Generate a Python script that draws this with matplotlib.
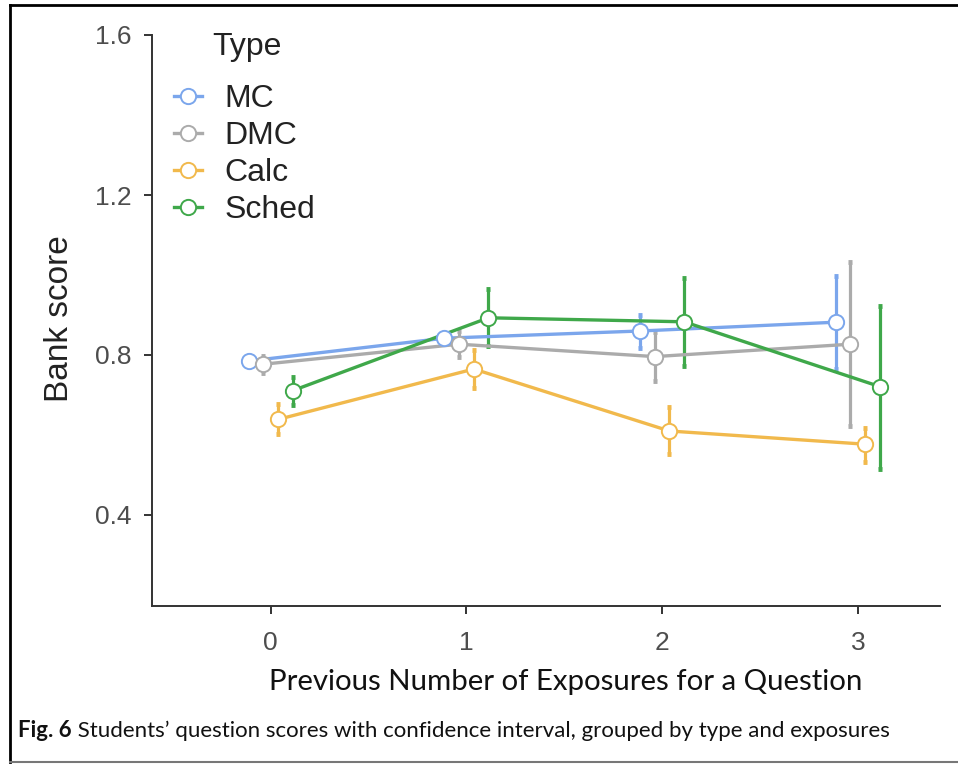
import matplotlib
matplotlib.use("Agg")
import matplotlib.pyplot as plt
from matplotlib.lines import Line2D
import numpy as np

# ---- data ----
exposures = [0, 1, 2, 3]
types = ["MC", "DMC", "Calc", "Sched"]
mc_mean = [0.785, 0.842, 0.860, 0.882]
mc_lo = [0.777, 0.830, 0.817, 0.764]
mc_hi = [0.793, 0.854, 0.900, 0.998]
dmc_mean = [0.777, 0.827, 0.796, 0.827]
dmc_lo = [0.756, 0.796, 0.735, 0.623]
dmc_hi = [0.797, 0.860, 0.858, 1.033]
calc_mean = [0.639, 0.765, 0.610, 0.577]
calc_lo = [0.602, 0.717, 0.552, 0.533]
calc_hi = [0.677, 0.812, 0.671, 0.617]
sched_mean = [0.711, 0.893, 0.883, 0.721]
sched_lo = [0.675, 0.823, 0.773, 0.514]
sched_hi = [0.746, 0.964, 0.992, 0.922]
y_ticks = [0.4, 0.8, 1.2, 1.6]
y_ticklabels = ["0.4", "0.8", "1.2", "1.6"]
x_label = "Previous Number of Exposures for a Question"
y_label = "Bank score"
legend_title = "Type"
caption_bold = "Fig. 6"
caption_text = " Students\u2019 question scores with confidence interval, grouped by type and exposures"

means = [mc_mean, dmc_mean, calc_mean, sched_mean]
los = [mc_lo, dmc_lo, calc_lo, sched_lo]
his = [mc_hi, dmc_hi, calc_hi, sched_hi]
colors = ["#7ba6ec", "#ababab", "#f1b94c", "#3fa84a"]
offsets = [-0.1125, -0.0375, 0.0375, 0.1125]

arial = ["Liberation Sans", "DejaVu Sans"]
cal = ["Lato", "DejaVu Sans"]

W, H = 958, 765
fig = plt.figure(figsize=(W / 100, H / 100), dpi=100)
ax = fig.add_axes([152 / W, 1 - 606 / H, (940 - 152) / W, (606 - 35) / H])

for m, lo, hi, c, off in zip(means, los, his, colors, offsets):
    x = np.array(exposures) + off
    m = np.array(m)
    yerr = [m - np.array(lo), np.array(hi) - m]
    ax.errorbar(x, m, yerr=yerr, fmt="none", ecolor=c, elinewidth=2.3,
                capsize=1.6, capthick=3.5, zorder=2)
    ax.plot(x, m, color=c, lw=2.4, zorder=3)
    ax.plot(x, m, ls="none", marker="o", ms=11, mfc="white", mec=c,
            mew=1.4, zorder=4)

ax.set_xlim(-0.607, 3.42)
ax.set_ylim(0.1725, 1.6)
ax.set_xticks(exposures)
ax.set_xticklabels([str(e) for e in exposures])
ax.set_yticks(y_ticks)
ax.set_yticklabels(y_ticklabels)
for s in ["top", "right"]:
    ax.spines[s].set_visible(False)
for s in ["left", "bottom"]:
    ax.spines[s].set_color("#333333")
    ax.spines[s].set_linewidth(1.4)
ax.tick_params(axis="both", length=5.5, width=1.4, color="#333333",
               labelcolor="#4d4d4d", labelsize=19)
ax.tick_params(axis="y", pad=9)
ax.tick_params(axis="x", pad=12.5)
for lab in ax.get_xticklabels() + ax.get_yticklabels():
    lab.set_family(arial)

fig.text(60 / W, 1 - 319 / H, y_label, rotation=90, ha="center", va="center",
         fontsize=24, color="#222222", family=arial)

fig.text(566 / W, 1 - 682 / H, x_label, ha="center", va="center",
         fontsize=21.2, color="#111111", family=cal)

# legend
handles = [Line2D([0], [0], color=c, lw=2.4, marker="o", ms=11, mfc="white",
                  mec=c, mew=1.4) for c in colors]
leg = ax.legend(handles, types, loc="upper left",
                bbox_to_anchor=(174 / W, 1 - 84 / H), bbox_transform=fig.transFigure,
                frameon=False, handlelength=0.875, handletextpad=0.7,
                labelspacing=0.22, borderpad=0, borderaxespad=0,
                prop={"family": arial, "size": 23})
for t in leg.get_texts():
    t.set_color("#222222")
fig.text(212 / W, 1 - 47 / H, legend_title, ha="left", va="center", fontsize=23,
         color="#222222", family=arial)

# caption
fig.canvas.draw()
r = fig.canvas.get_renderer()
tb = fig.text(18 / W, 1 - 737 / H, caption_bold, ha="left", va="baseline",
              fontsize=16, fontweight="bold", color="#111111", family=cal)
bb = tb.get_window_extent(renderer=r)
fig.text(bb.x1 / W, 1 - 737 / H, caption_text, ha="left", va="baseline",
         fontsize=16, color="#111111", family=cal)

# frame border
fig.add_artist(Line2D([10 / W, 1.0], [1 - 5 / H, 1 - 5 / H], color="black", lw=2,
                      transform=fig.transFigure))
fig.add_artist(Line2D([10 / W, 10 / W], [1 - 5 / H, 1 - 762 / H], color="black", lw=2,
                      transform=fig.transFigure))
fig.add_artist(Line2D([10 / W, 1.0], [1 - 762 / H, 1 - 762 / H], color="#777777", lw=1.5,
                      transform=fig.transFigure))

fig.savefig("out.png", dpi=100)
